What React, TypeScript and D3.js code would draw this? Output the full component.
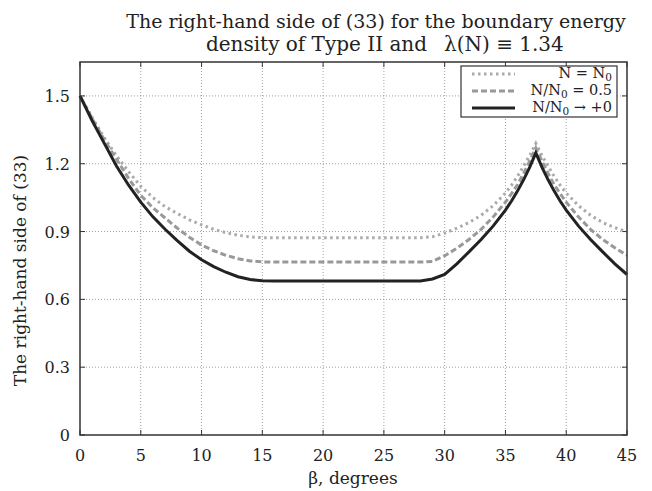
import * as d3 from "d3";

const betaTicks = [0, 5, 10, 15, 20, 25, 30, 35, 40, 45];
const valueTicks = [0, 0.3, 0.6, 0.9, 1.2, 1.5];

// beta sample points (degrees)
const beta = [
  0, 1, 2, 3, 4, 5, 6, 7, 8, 9, 10, 11, 12, 13, 14, 15, 16, 18, 20, 22, 24, 26,
  27, 28, 29, 30, 31, 32, 33, 34, 35, 35.5, 36, 36.5, 37, 37.5, 38, 38.5, 39,
  39.5, 40, 41, 42, 43, 44, 45,
];

// N = N0
const sameN = [
  1.5, 1.405, 1.315, 1.235, 1.165, 1.1, 1.05, 1.01, 0.98, 0.952, 0.93, 0.91,
  0.895, 0.884, 0.876, 0.873, 0.873, 0.873, 0.873, 0.873, 0.873, 0.873, 0.873,
  0.873, 0.877, 0.893, 0.915, 0.94, 0.972, 1.015, 1.07, 1.105, 1.145, 1.19,
  1.237, 1.29, 1.237, 1.19, 1.145, 1.105, 1.07, 1.015, 0.972, 0.94, 0.917, 0.9,
];

// N/N0 = 0.5
const halfN = [
  1.5, 1.4, 1.305, 1.22, 1.135, 1.06, 1.005, 0.96, 0.915, 0.875, 0.84, 0.815,
  0.795, 0.78, 0.77, 0.766, 0.765, 0.765, 0.765, 0.765, 0.765, 0.765, 0.765,
  0.765, 0.768, 0.793, 0.826, 0.865, 0.91, 0.965, 1.03, 1.068, 1.108, 1.158,
  1.212, 1.27, 1.212, 1.158, 1.108, 1.068, 1.03, 0.965, 0.91, 0.865, 0.828,
  0.795,
];

// N/N0 -> +0
const zeroN = [
  1.5, 1.39, 1.29, 1.19, 1.105, 1.03, 0.965, 0.91, 0.86, 0.813, 0.775, 0.745,
  0.72, 0.7, 0.688, 0.682, 0.681, 0.681, 0.681, 0.681, 0.681, 0.681, 0.681,
  0.681, 0.69, 0.71, 0.757, 0.81, 0.865, 0.925, 0.995, 1.035, 1.08, 1.13, 1.185,
  1.248, 1.185, 1.13, 1.08, 1.035, 0.995, 0.925, 0.865, 0.81, 0.757, 0.71,
];

const W = 652;
const H = 491;
const left = 80;
const right = 627;
const top = 62;
const bottom = 435;
const font = "'DejaVu Serif', serif";

export default function App() {
  const x = d3.scaleLinear([0, 45], [left, right]);
  const y = d3.scaleLinear([0, 1.65], [bottom, top]);
  const line = (vals: number[]) =>
    d3
      .line<number>()
      .x((_, i) => x(beta[i]))
      .y((d) => y(d))
      .curve(d3.curveLinear)(vals) as string;

  const series = [
    { vals: sameN, color: "#aaa", dash: "2.5,3.5", width: 3 },
    { vals: halfN, color: "#999", dash: "6,3", width: 3 },
    { vals: zeroN, color: "#222", dash: null, width: 3 },
  ];

  return (
    <div style={{ position: "absolute", left: 0, top: 0 }}>
      <svg width={W} height={H} style={{ display: "block", background: "#fff" }}>
        <g fontFamily={font} fill="#222" fontSize={19}>
          <text x={376} y={28} textAnchor="middle">
            The right-hand side of (33) for the boundary energy
          </text>
          <text x={427} y={51} textAnchor="end" fontSize={20}>
            density of Type II and
          </text>
          <text x={444} y={51} fontSize={20}>
            λ(N) ≡ 1.34
          </text>
        </g>

        {/* grid */}
        <g stroke="#888" strokeWidth={0.8} strokeDasharray="1,2">
          {betaTicks.slice(1, -1).map((t) => (
            <line key={t} x1={x(t)} x2={x(t)} y1={top} y2={bottom} />
          ))}
          {valueTicks.slice(1).map((t) => (
            <line key={t} x1={left} x2={right} y1={y(t)} y2={y(t)} />
          ))}
        </g>

        {/* tick marks */}
        <g stroke="#333" strokeWidth={1}>
          {betaTicks.map((t) => (
            <g key={t}>
              <line x1={x(t)} x2={x(t)} y1={bottom} y2={bottom - 5} />
              <line x1={x(t)} x2={x(t)} y1={top} y2={top + 5} />
            </g>
          ))}
          {valueTicks.map((t) => (
            <g key={t}>
              <line x1={left} x2={left + 5} y1={y(t)} y2={y(t)} />
              <line x1={right} x2={right - 5} y1={y(t)} y2={y(t)} />
            </g>
          ))}
        </g>

        {/* curves */}
        <g fill="none">
          {series.map((s, i) => (
            <path
              key={i}
              d={line(s.vals)}
              stroke={s.color}
              strokeWidth={s.width}
              strokeDasharray={s.dash ?? undefined}
            />
          ))}
        </g>

        <rect
          x={left}
          y={top}
          width={right - left}
          height={bottom - top}
          fill="none"
          stroke="#333"
          strokeWidth={1.5}
        />

        {/* tick labels */}
        <g fontFamily={font} fontSize={16} fill="#222">
          {betaTicks.map((t) => (
            <text key={t} x={x(t)} y={461} textAnchor="middle">
              {t}
            </text>
          ))}
          {valueTicks.map((t) => (
            <text key={t} x={70} y={y(t) + 6} textAnchor="end">
              {t}
            </text>
          ))}
          <text x={353} y={484} textAnchor="middle" fontSize={17}>
            β, degrees
          </text>
          <text
            transform={`translate(26,${(top + bottom) / 2 + 22}) rotate(-90)`}
            textAnchor="middle"
            fontSize={17}
          >
            The right-hand side of (33)
          </text>
        </g>

        {/* legend */}
        <g>
          <rect x={461} y={66} width={156} height={51} fill="#fff" stroke="#333" strokeWidth={1.2} />
          {series.map((s, i) => (
            <line
              key={i}
              x1={472}
              x2={515}
              y1={74 + i * 17}
              y2={74 + i * 17}
              stroke={s.color}
              strokeWidth={s.width}
              strokeDasharray={s.dash ?? undefined}
            />
          ))}
          <g fontFamily={font} fontSize={14.5} fill="#222" textAnchor="end">
            <text x={612} y={78}>
              N = N<tspan dy={3} fontSize={10.5}>0</tspan>
            </text>
            <text x={612} y={95}>
              N/N<tspan dy={3} fontSize={10.5}>0</tspan>
              <tspan dy={-3}> = 0.5</tspan>
            </text>
            <text x={612} y={112}>
              N/N<tspan dy={3} fontSize={10.5}>0</tspan>
              <tspan dy={-3}> → +0</tspan>
            </text>
          </g>
        </g>
      </svg>
    </div>
  );
}
